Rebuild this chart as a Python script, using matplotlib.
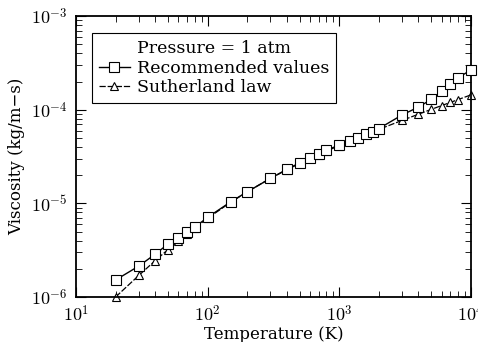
import numpy as np
import matplotlib
matplotlib.use('Agg')
import matplotlib.pyplot as plt
from matplotlib.ticker import FuncFormatter, LogLocator

plt.rcParams['font.family'] = ['DejaVu Serif']
plt.rcParams['mathtext.fontset'] = 'cm'

# Temperature points (K)
temps = [20, 30, 40, 50, 60, 70, 80, 100, 150, 200, 300, 400, 500, 600, 700,
         800, 1000, 1200, 1400, 1600, 1800, 2000, 3000, 4000, 5000, 6000,
         7000, 8000, 10000]

# Recommended values (x 1e-6 kg/m-s)
mu_recommended = [1.52, 2.14, 2.87, 3.68, 4.27, 4.98, 5.58, 7.1, 10.4, 13.3,
                  18.5, 23.1, 27.1, 30.6, 33.9, 37.0, 42.0, 46.5, 50.5, 54.5,
                  58.0, 63.0, 88.0, 107.0, 129.0, 159.0, 191.0, 221.0, 265.0]

# Sutherland law values (x 1e-6 kg/m-s)
mu_sutherland = [1.00, 1.70, 2.45, 3.21, 3.98, 4.73, 5.48, 6.93, 10.3, 13.3,
                 18.5, 22.9, 26.7, 30.2, 33.3, 36.2, 41.5, 46.2, 50.6, 54.6,
                 58.3, 61.8, 77.0, 89.7, 101.0, 111.0, 120.0, 128.6, 144.2]

T = np.array(temps)
rec = np.array(mu_recommended) * 1e-6
suth = np.array(mu_sutherland) * 1e-6

fig = plt.figure(figsize=(4.78, 3.42), dpi=100)
ax = fig.add_axes([0.159, 0.1316, 0.826, 0.821])

ax.plot(T, rec, color='black', lw=1.0, marker='s', ms=6.5, mfc='white',
        mec='black', mew=0.8, label='Recommended values', clip_on=False,
        zorder=3)
ax.plot(T, suth, color='black', lw=0.9, ls=(0, (5, 1.5)), marker='^', ms=6,
        mfc='white', mec='black', mew=0.8, label='Sutherland law',
        clip_on=False, zorder=2)

ax.set_xscale('log')
ax.set_yscale('log')
ax.set_xlim(10, 1e4)
ax.set_ylim(1e-6, 1e-3)

fmt = FuncFormatter(lambda v, p: r'$10^{%d}$' % int(round(np.log10(v))))
ax.xaxis.set_major_formatter(fmt)
ax.yaxis.set_major_formatter(fmt)
ax.xaxis.set_minor_locator(LogLocator(base=10, subs=np.arange(2, 10)))
ax.yaxis.set_minor_locator(LogLocator(base=10, subs=np.arange(2, 10)))

ax.tick_params(which='both', direction='in', top=True, right=True,
               labelsize=13, pad=6)
ax.tick_params(which='major', length=7, width=0.8)
ax.tick_params(which='minor', length=4, width=0.6)
for s in ax.spines.values():
    s.set_linewidth(1.3)

ax.set_xlabel('Temperature (K)', fontsize=12, labelpad=0)
ax.set_ylabel('Viscosity (kg/m\u2212s)', fontsize=12, labelpad=4)

leg = ax.legend(loc='upper left', bbox_to_anchor=(0.04, 0.94),
                title='Pressure = 1 atm', fontsize=12.5, title_fontsize=12.5,
                fancybox=False, edgecolor='black', framealpha=1,
                handlelength=1.8, handletextpad=0.4, borderpad=0.4,
                labelspacing=0.15, borderaxespad=0)
leg.get_frame().set_linewidth(0.8)

fig.savefig('out.png', dpi=100)
